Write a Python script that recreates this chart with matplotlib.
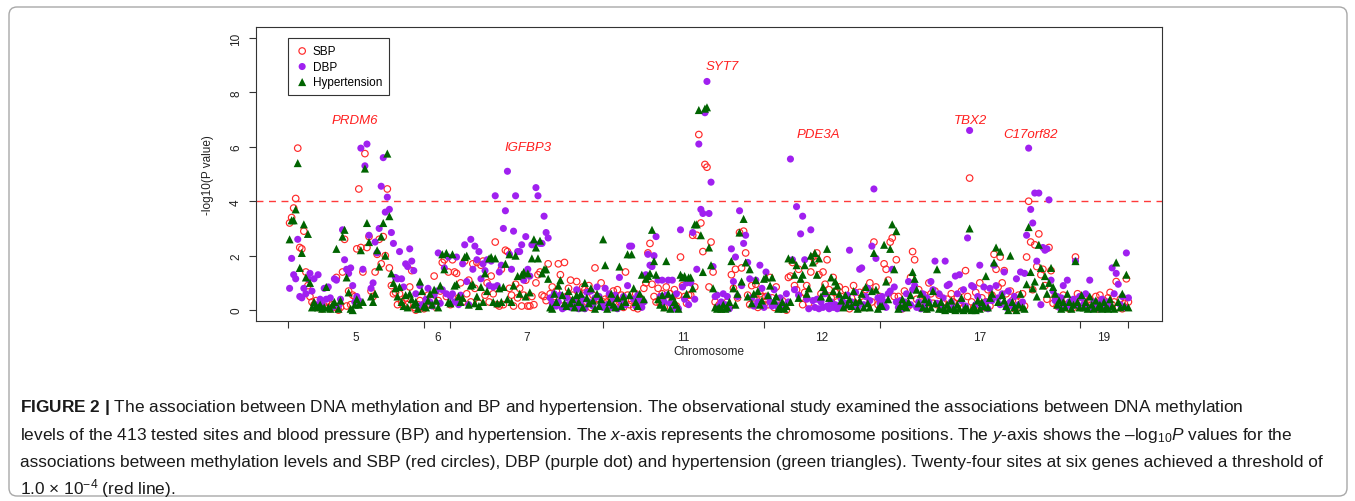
import numpy as np
import matplotlib
matplotlib.use("Agg")
import matplotlib.pyplot as plt
from matplotlib import font_manager
from matplotlib.patches import FancyBboxPatch

# chromosomes along the x axis, number of tested sites in each
chrom_labels = ['5', '6', '7', '11', '12', '17', '19']
chrom_sizes = [67, 13, 75, 79, 57, 98, 24]

# -log10(P) per site (sites in chromosome order)
sbp = [
    # chr5
    3.2, 3.4, 3.75, 4.1, 5.95, 2.3, 2.25, 2.9, 1.4, 0.9,
    0.5, 0.3, 0.2, 0.35, 0.1, 0.2, 0.05, 0.15, 0.3, 0.1,
    0.05, 0.2, 0.1, 1.2, 0.0, 0.1, 1.4, 2.6, 0.15, 0.7,
    0.2, 0.55, 0.5, 2.25, 4.45, 2.3, 1.4, 5.75, 2.3, 2.7,
    0.7, 0.5, 1.4, 2.05, 2.6, 1.7, 2.7, 2.0, 4.45, 1.55,
    0.9, 0.6, 0.65, 0.2, 0.6, 0.3, 0.15, 0.45, 0.2, 0.85,
    1.45, 0.1, 0.0, 0.2, 0.35, 0.1, 0.05,
    # chr6
    0.3, 0.55, 0.2, 0.35, 1.25, 0.1, 0.35, 0.7, 1.75, 1.85, 0.5, 1.4, 0.2,
    # chr7
    1.85, 1.4, 1.35, 0.45, 1.0, 0.3, 1.8, 0.6, 1.1, 0.3,
    1.7, 0.8, 1.75, 0.25, 1.65, 1.8, 0.55, 1.0, 0.3, 1.25,
    0.6, 2.5, 0.2, 0.15, 1.5, 0.2, 2.2, 2.15, 0.8, 0.55,
    0.15, 0.95, 0.45, 0.8, 0.15, 0.55, 1.1, 0.15, 0.15, 0.5,
    0.2, 1.0, 1.3, 1.4, 0.55, 0.5, 0.35, 1.7, 0.6, 0.85,
    0.5, 0.7, 1.7, 1.3, 0.15, 1.75, 0.5, 0.8, 1.1, 0.55,
    0.3, 1.05, 0.6, 0.45, 0.85, 0.75, 0.3, 0.9, 0.1, 0.55,
    1.55, 0.2, 0.35, 1.0, 0.3,
    # chr11
    0.4, 0.3, 0.5, 0.15, 0.7, 0.2, 0.75, 0.3, 0.55, 0.1,
    1.4, 0.55, 0.2, 0.35, 0.1, 0.6, 0.05, 0.45, 0.3, 0.8,
    1.0, 2.1, 2.45, 0.95, 0.5, 0.3, 0.8, 0.25, 0.6, 0.1,
    0.85, 0.35, 0.6, 0.4, 0.75, 0.15, 0.55, 1.95, 0.9, 0.5,
    0.25, 0.55, 0.55, 2.75, 0.85, 2.75, 6.45, 3.2, 2.15, 5.35,
    5.25, 0.85, 2.5, 1.4, 0.3, 0.1, 0.2, 0.05, 0.15, 0.1,
    0.3, 0.1, 1.3, 0.8, 1.5, 0.45, 2.85, 1.55, 2.9, 2.1,
    0.55, 0.2, 0.9, 0.45, 0.95, 0.1, 0.6, 0.5, 0.2,
    # chr12
    0.5, 0.2, 1.2, 0.45, 0.1, 0.85, 0.3, 0.05, 0.35, 0.15,
    0.0, 1.2, 1.25, 1.75, 0.9, 0.75, 1.5, 0.45, 0.2, 0.65,
    0.9, 0.25, 1.4, 1.95, 1.8, 2.1, 1.3, 0.6, 1.4, 0.95,
    1.85, 0.75, 0.45, 1.2, 0.65, 0.3, 0.85, 0.5, 0.15, 0.75,
    0.35, 0.05, 0.45, 0.9, 0.25, 0.2, 0.65, 0.1, 0.3, 0.75,
    0.1, 1.0, 0.3, 2.5, 0.85, 0.2, 0.5,
    # chr17
    0.2, 1.7, 1.5, 1.1, 2.5, 2.65, 0.5, 1.85, 0.5, 0.2,
    0.05, 0.7, 0.25, 0.15, 1.2, 2.15, 1.85, 0.4, 0.75, 0.1,
    0.3, 0.55, 0.05, 1.0, 0.6, 0.25, 0.7, 0.2, 0.55, 0.1,
    0.3, 0.05, 0.4, 0.15, 0.6, 0.3, 0.1, 0.45, 0.25, 0.7,
    0.1, 1.45, 0.5, 4.85, 0.3, 0.1, 0.65, 0.2, 1.0, 0.45,
    0.1, 0.3, 0.75, 0.15, 0.55, 2.05, 1.5, 0.85, 1.95, 1.0,
    1.45, 0.6, 0.2, 0.7, 0.35, 0.05, 0.3, 0.55, 0.1, 0.6,
    0.15, 1.95, 4.0, 2.5, 0.75, 2.4, 1.6, 2.8, 1.3, 1.5,
    0.9, 0.4, 2.3, 1.45, 0.25, 0.5, 0.15, 0.35, 0.1, 0.55,
    0.2, 0.4, 0.05, 0.3, 0.1, 1.95, 0.6, 0.25,
    # chr19
    0.3, 0.15, 0.45, 0.1, 0.4, 0.2, 0.1, 0.5, 0.05, 0.55, 0.2, 0.35,
    0.1, 0.45, 0.65, 0.2, 0.3, 1.05, 0.1, 0.4, 0.05, 0.25, 1.15, 0.3,
]

dbp = [
    # chr5
    0.8, 1.9, 1.3, 1.15, 2.6, 0.5, 0.45, 0.8, 0.6, 1.15,
    1.35, 0.7, 1.15, 0.2, 1.3, 0.4, 0.2, 0.8, 0.4, 0.85,
    0.45, 0.1, 1.15, 1.1, 0.15, 0.4, 2.95, 1.85, 1.5, 1.35,
    1.55, 0.9, 0.3, 0.5, 0.35, 5.95, 1.5, 5.3, 6.1, 2.75,
    0.8, 1.0, 2.5, 2.1, 3.0, 4.55, 5.6, 3.6, 4.15, 3.7,
    2.85, 2.45, 1.2, 1.15, 2.15, 1.15, 0.85, 1.7, 1.6, 2.25,
    1.8, 1.45, 0.6, 0.15, 0.9, 0.2, 0.1,
    # chr6
    0.4, 0.8, 0.3, 0.15, 0.55, 0.7, 2.1, 0.25, 0.75, 1.55, 0.6, 1.95, 0.5,
    # chr7
    0.6, 0.3, 1.95, 0.2, 0.55, 1.7, 2.4, 1.05, 0.2, 2.6,
    1.5, 2.35, 1.85, 2.15, 1.15, 1.7, 1.45, 1.85, 0.9, 1.8,
    0.85, 4.2, 0.9, 1.4, 1.65, 3.0, 3.65, 5.1, 2.05, 1.5,
    2.9, 4.2, 2.15, 2.15, 2.4, 1.1, 2.7, 1.5, 1.25, 2.4,
    2.45, 4.5, 4.2, 2.45, 2.45, 3.45, 2.85, 2.65, 0.45, 0.25,
    0.6, 0.15, 0.3, 0.55, 0.05, 0.1, 0.45, 0.2, 0.1, 0.35,
    0.3, 0.75, 0.05, 0.2, 0.4, 0.05, 0.65, 0.3, 0.7, 0.15,
    0.45, 0.85, 0.5, 0.25, 0.1,
    # chr11
    0.8, 0.2, 0.6, 0.1, 0.4, 0.55, 0.05, 1.2, 0.3, 0.5,
    0.2, 0.9, 2.35, 2.35, 0.4, 0.15, 0.55, 0.35, 0.1, 0.3,
    1.3, 2.05, 1.65, 1.6, 2.0, 2.7, 1.1, 0.5, 1.1, 0.3,
    0.55, 1.1, 0.25, 1.1, 0.05, 0.6, 0.05, 2.95, 0.85, 0.4,
    1.0, 0.2, 1.0, 2.85, 0.4, 1.5, 6.1, 3.7, 3.55, 7.25,
    8.4, 3.55, 4.7, 1.6, 0.5, 0.55, 0.15, 0.3, 0.6, 0.2,
    0.5, 0.05, 2.25, 1.05, 1.95, 0.5, 3.65, 0.9, 2.45, 2.75,
    1.75, 1.15, 0.45, 0.15, 1.1, 0.3, 1.65, 0.8, 0.1,
    # chr12
    1.4, 0.5, 0.3, 0.15, 0.75, 0.2, 0.1, 0.45, 0.2, 0.1,
    0.6, 0.3, 5.55, 1.85, 0.75, 3.8, 0.55, 2.8, 3.45, 1.85,
    0.4, 0.05, 2.95, 0.35, 0.1, 0.4, 0.05, 0.3, 0.1, 0.6,
    0.15, 0.05, 0.3, 0.1, 0.2, 0.05, 0.15, 0.4, 0.1, 0.25,
    0.55, 2.2, 0.3, 0.15, 0.65, 0.1, 1.5, 1.55, 0.2, 0.5,
    0.8, 0.35, 2.35, 4.45, 1.9, 0.45, 0.25,
    # chr17
    0.5, 0.3, 0.1, 0.6, 0.7, 1.5, 0.85, 0.3, 0.1, 0.35,
    0.05, 0.3, 0.6, 1.05, 0.2, 0.75, 0.9, 0.1, 0.3, 0.05,
    0.6, 0.15, 0.45, 0.3, 1.05, 0.75, 1.8, 0.25, 0.6, 0.15,
    0.45, 1.8, 0.9, 0.95, 0.3, 0.1, 1.25, 0.6, 1.3, 0.35,
    0.75, 0.15, 2.65, 6.6, 0.9, 0.85, 0.2, 0.5, 1.65, 0.1,
    0.85, 0.3, 0.05, 0.8, 0.35, 1.65, 0.9, 0.45, 0.2, 0.6,
    1.4, 0.1, 0.7, 0.3, 0.15, 0.5, 1.15, 0.2, 1.4, 0.3,
    1.35, 2.75, 5.95, 3.7, 3.2, 4.3, 1.8, 4.3, 0.2, 2.3,
    2.2, 2.25, 4.05, 1.1, 0.7, 0.35, 0.5, 0.1, 0.45, 0.9,
    0.15, 1.1, 0.3, 0.1, 0.4, 1.8, 0.2, 0.5,
    # chr19
    0.45, 0.2, 0.6, 0.1, 1.1, 0.05, 0.3, 0.1, 0.25, 0.05, 0.4, 0.15,
    0.05, 0.3, 0.1, 1.55, 0.6, 1.35, 0.95, 0.2, 0.5, 0.1, 2.1, 0.45,
]

hyp = [
    # chr5
    2.6, 3.3, 3.3, 3.7, 5.4, 1.55, 2.1, 3.15, 1.2, 2.8,
    1.0, 0.1, 0.3, 0.15, 0.1, 0.2, 0.05, 0.1, 0.85, 0.1,
    0.05, 0.2, 0.3, 2.25, 0.05, 0.35, 2.7, 2.95, 1.2, 0.65,
    0.05, 0.0, 0.2, 0.4, 0.2, 2.2, 0.3, 5.2, 3.2, 2.5,
    0.5, 0.3, 0.6, 2.2, 1.6, 2.7, 3.2, 2.0, 5.75, 3.45,
    1.35, 1.0, 0.8, 0.5, 0.85, 0.3, 0.15, 0.55, 0.1, 0.6,
    0.4, 0.2, 0.3, 0.05, 1.05, 0.7, 0.15,
    # chr6
    0.1, 0.35, 0.6, 0.2, 0.75, 0.35, 0.1, 0.9, 2.05, 1.5, 2.1, 0.3, 0.25,
    # chr7
    2.05, 0.9, 0.95, 0.5, 0.3, 0.45, 1.95, 2.0, 0.2, 0.9,
    0.95, 0.25, 0.5, 0.15, 0.85, 0.3, 1.35, 0.7, 1.9, 1.95,
    0.3, 1.9, 0.25, 0.8, 0.3, 0.85, 1.7, 0.4, 2.05, 0.3,
    0.9, 2.0, 1.25, 0.6, 1.3, 1.4, 0.5, 1.35, 0.65, 1.9,
    2.6, 2.3, 1.9, 2.55, 1.35, 1.5, 1.5, 1.15, 0.1, 0.05,
    0.6, 0.3, 0.9, 1.1, 0.55, 0.25, 0.15, 0.7, 0.25, 0.4,
    0.1, 0.55, 0.3, 0.6, 0.1, 1.0, 0.45, 0.25, 0.8, 0.35,
    0.05, 0.6, 0.15, 0.4, 2.6,
    # chr11
    1.65, 0.05, 0.3, 0.6, 0.2, 0.1, 0.45, 1.6, 0.15, 0.5,
    0.3, 2.05, 0.55, 2.05, 0.8, 0.3, 0.15, 0.6, 1.3, 0.4,
    1.15, 1.25, 1.35, 2.95, 1.8, 1.3, 0.4, 0.2, 0.55, 0.1,
    1.8, 0.6, 0.05, 0.5, 0.3, 0.2, 0.05, 1.3, 1.2, 1.25,
    0.6, 1.2, 1.2, 0.8, 3.15, 3.15, 7.35, 2.75, 1.4, 7.4,
    7.45, 2.3, 1.65, 0.8, 0.1, 0.05, 0.1, 0.05, 0.2, 0.05,
    0.1, 0.3, 1.8, 0.8, 0.2, 0.6, 2.85, 1.05, 3.35, 1.75,
    0.5, 1.5, 0.25, 0.6, 1.1, 0.7, 0.2, 0.35, 1.15,
    # chr12
    1.2, 0.55, 0.9, 1.2, 0.35, 0.5, 0.05, 0.1, 0.3, 0.05,
    0.15, 1.9, 0.3, 1.85, 1.3, 1.65, 0.45, 1.15, 1.3, 1.65,
    0.6, 0.8, 2.0, 1.75, 2.1, 1.3, 1.9, 0.5, 0.85, 0.7,
    2.25, 0.45, 1.2, 0.7, 1.05, 0.9, 0.6, 0.35, 0.1, 0.55,
    0.2, 0.4, 0.15, 0.7, 0.3, 0.05, 0.35, 0.6, 0.1, 0.85,
    0.25, 0.1, 0.7, 2.1, 0.75, 0.05, 0.15,
    # chr17
    0.15, 2.4, 1.05, 0.4, 2.25, 3.15, 1.5, 2.9, 0.05, 0.15,
    0.4, 0.2, 0.1, 0.3, 0.55, 1.4, 1.15, 0.75, 0.25, 0.6,
    0.1, 0.4, 0.05, 0.3, 0.1, 0.7, 0.25, 1.5, 0.05, 0.3,
    0.05, 0.0, 0.2, 0.05, 0.35, 0.05, 0.0, 0.2, 0.05, 0.45,
    0.0, 0.1, 0.05, 3.0, 0.0, 0.15, 0.0, 0.35, 0.05, 0.3,
    0.15, 1.25, 0.1, 0.45, 0.6, 1.75, 2.3, 0.3, 2.15, 0.55,
    0.35, 0.15, 0.0, 2.0, 0.3, 0.1, 0.0, 0.2, 0.6, 0.1,
    0.05, 0.95, 3.05, 1.4, 0.8, 1.05, 0.5, 2.4, 1.55, 0.9,
    1.25, 0.6, 1.0, 1.55, 0.85, 0.6, 0.2, 0.35, 0.05, 0.3,
    0.1, 0.6, 0.3, 0.05, 0.2, 1.8, 0.3, 0.1,
    # chr19
    0.55, 0.1, 0.3, 0.05, 0.5, 0.2, 0.05, 0.35, 0.1, 0.2, 0.05, 0.3,
    0.1, 0.05, 0.4, 0.15, 0.05, 1.75, 0.3, 0.1, 0.6, 0.15, 1.3, 0.1,
]

gene_names = ['PRDM6', 'IGFBP3', 'SYT7', 'PDE3A', 'TBX2', 'C17orf82']

n_sites = sum(chrom_sizes)
assert len(sbp) == len(dbp) == len(hyp) == n_sites

# fonts: Arial-like for the plot, narrower one for the caption if there is one
installed = {f.name for f in font_manager.fontManager.ttflist}
CAP_FONT = 'Liberation Sans Narrow' if 'Liberation Sans Narrow' in installed else 'Liberation Sans'

plt.rcParams['font.family'] = ['Liberation Sans', 'DejaVu Sans']
plt.rcParams['mathtext.fontset'] = 'custom'
plt.rcParams['mathtext.rm'] = CAP_FONT
plt.rcParams['mathtext.it'] = CAP_FONT + ':italic'
plt.rcParams['mathtext.bf'] = CAP_FONT + ':bold'

W, H = 1355, 502
fig = plt.figure(figsize=(W / 100, H / 100), dpi=100)
ax = fig.add_axes([256 / W, 1 - 322 / H, 906 / W, 294 / H])

x = np.arange(1, n_sites + 1)
ax.scatter(x, sbp, s=22, facecolors='none', edgecolors='#ff2a2a', linewidths=0.85,
           label='SBP', zorder=3)
ax.scatter(x, dbp, s=26, c='#a020f0', edgecolors='none', label='DBP', zorder=4)
ax.scatter(x, hyp, s=34, marker='^', c='#006400', edgecolors='none',
           label='Hypertension', zorder=5)

ax.axhline(4, color='#ff3a3a', lw=1, ls=(0, (5, 4)), zorder=2)

ax.set_xlim(-15.5, 429.5)
ax.set_ylim(-0.4, 10.4)

# ticks at chromosome boundaries, labels in the middle of each block
bounds = np.concatenate([[0], np.cumsum(chrom_sizes)])
mids = (bounds[:-1] + bounds[1:]) / 2
ax.set_xticks(bounds)
ax.set_xticklabels([])
ax.set_xticks(mids, minor=True)
ax.set_xticklabels(chrom_labels, minor=True)
ax.tick_params(axis='x', which='major', length=5, width=0.8, color='#333333')
ax.tick_params(axis='x', which='minor', length=0, pad=7, labelsize=8.5, labelcolor='#222222')

ax.set_yticks([0, 2, 4, 6, 8, 10])
ax.tick_params(axis='y', length=5, width=0.8, color='#333333', pad=5,
               labelsize=8.5, labelcolor='#222222', labelrotation=90)
for t in ax.get_yticklabels():
    t.set_va('center')

for sp in ax.spines.values():
    sp.set_color('#333333')
    sp.set_linewidth(0.8)

ax.set_xlabel('Chromosome', fontsize=8.5, color='#222222')
ax.xaxis.set_label_coords(0.5, -24 / 294)
ax.set_ylabel('-log10(P value)', fontsize=8.5, color='#222222')
ax.yaxis.set_label_coords(-42 / 906, 0.5)

# gene names over the peaks
gene_x = [33.1, 118.1, 213.4, 260.5, 335.2, 364.7]
gene_y = [6.99, 6.0, 8.97, 6.47, 6.99, 6.47]
for name, gx, gy in zip(gene_names, gene_x, gene_y):
    ax.text(gx, gy, name, color='#ff2020', style='italic', fontsize=9.5,
            ha='center', va='center')

leg = ax.legend(loc='upper left', bbox_to_anchor=(32 / 906, 1 - 11 / 294),
                borderaxespad=0, fancybox=False, edgecolor='#333333', framealpha=1,
                fontsize=8.5, handletextpad=0.3, borderpad=0.6, labelspacing=0.3,
                scatterpoints=1, handlelength=1.2)
leg.get_frame().set_linewidth(0.8)

# outer frame of the figure panel
frame = FancyBboxPatch((0.09, 0.05), 13.38, 4.89, boxstyle='round,pad=0,rounding_size=0.08',
                       transform=fig.dpi_scale_trans, fill=False, edgecolor='#a8a8a8', lw=1)
fig.add_artist(frame)

# caption
cap_lines = [
    r'$\mathbf{FIGURE\ 2\ |}$ The association between DNA methylation and BP and hypertension. '
    r'The observational study examined the associations between DNA methylation',
    r'levels of the 413 tested sites and blood pressure (BP) and hypertension. The $x$-axis '
    r'represents the chromosome positions. The $y$-axis shows the –log$_{10}$$P$ values for the',
    r'associations between methylation levels and SBP (red circles), DBP (purple dot) and '
    r'hypertension (green triangles). Twenty-four sites at six genes achieved a threshold of',
    r'1.0 × 10$^{-4}$ (red line).',
]
cap_base = [412, 440, 467, 494]
texts = [fig.text(20 / W, 1 - b / H, s, fontsize=12, family=CAP_FONT, va='baseline',
                  ha='left', color='#1a1a1a') for s, b in zip(cap_lines, cap_base)]
fig.canvas.draw()
r = fig.canvas.get_renderer()
w3 = texts[2].get_window_extent(r).width
for t in texts:
    t.set_fontsize(12 * 1302 / w3)

fig.savefig('out.png', dpi=100)
